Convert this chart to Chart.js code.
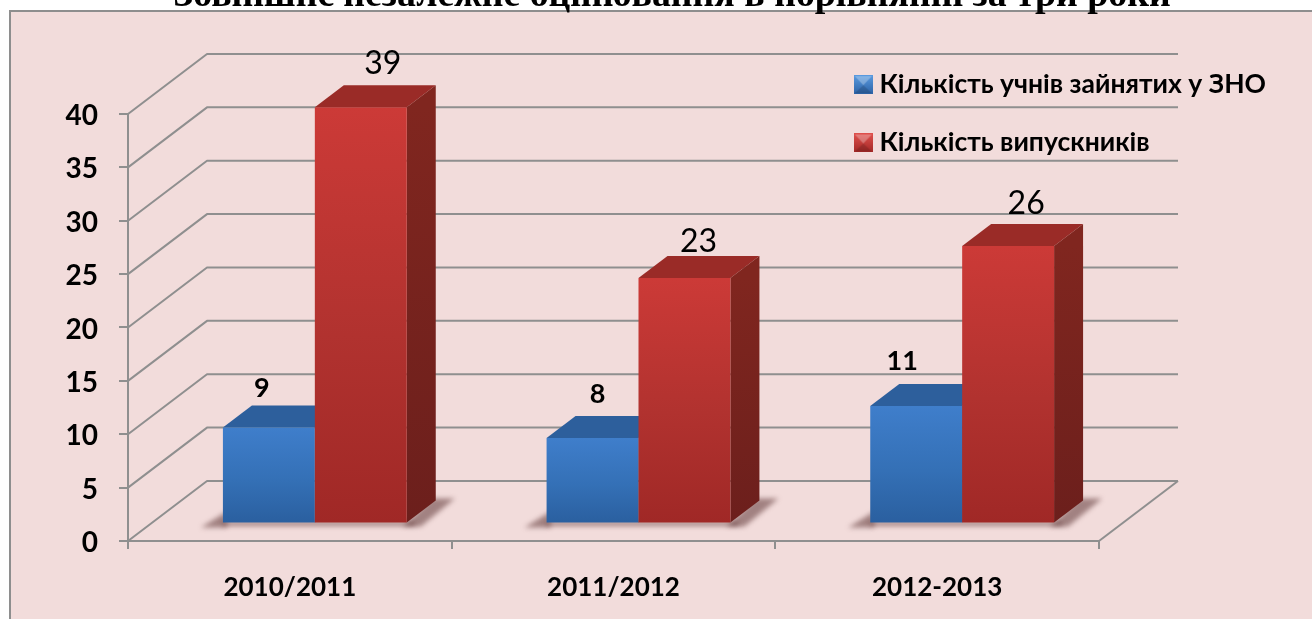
<!DOCTYPE html>
<html><head><meta charset="utf-8">
<style>html,body{margin:0;padding:0;background:#fff;overflow:hidden}canvas{display:block}</style>
<script src="https://cdn.jsdelivr.net/npm/chart.js@4/dist/chart.umd.min.js"></script>
</head><body>
<canvas id="c" width="1312" height="619"></canvas>
<script>
const chartTitle = 'Зовнішнє незалежне оцінювання в порівнянні за три роки';
const categories = ['2010/2011', '2011/2012', '2012-2013'];
const seriesNames = ['Кількість учнів зайнятих у ЗНО', 'Кількість випускників'];
const znoStudents = [9, 8, 11];
const graduates = [39, 23, 26];
const yMin = 0, yMax = 40, yStep = 5;

const LABEL_FONT = 'Lato, "Open Sans", sans-serif';
const GRID = '#8f8f8f';
const WALL = {dx: 79, dy: -60};     // depth of the floor / side wall
const BAR_PLANE = {dx: 25, dy: -17.5}; // where the front of the bars sits on the floor
const BAR_DEPTH = {dx: 29, dy: -22};
const BLUE = {front: ['#3f7ecb', '#3470b6', '#2a5f9f'], top: '#2d5f9c', side: '#234c80', key: ['#5b9be0', '#2c62a6']};
const RED  = {front: ['#cc3a37', '#b1322f', '#a02826'], top: '#9a2b27', side: ['#80261f', '#6c1f1c'], key: ['#e0504c', '#a22826']};
// hand placement of the data labels, relative to the top-centre of each bar
const LABEL_SHIFT = [
  [{x: -7, y: -39, s: 27, w: '700'}, {x: 5, y: -44, s: 27, w: '700'}, {x: -14, y: -45, s: 27, w: '700'}],
  [{x: 22, y: -43, s: 32, w: '400'}, {x: 14, y: -36, s: 32, w: '400'}, {x: 18, y: -42, s: 32, w: '400'}]
];

function makeKey(stops) {
  const k = document.createElement('canvas'); k.width = 19; k.height = 19;
  const g = k.getContext('2d');
  const lg = g.createLinearGradient(0, 0, 0, 19);
  lg.addColorStop(0, stops[0]); lg.addColorStop(1, stops[1]);
  g.fillStyle = lg; g.fillRect(0, 0, 19, 19);
  g.fillStyle = 'rgba(255,255,255,.28)';
  g.beginPath(); g.moveTo(1, 1); g.lineTo(18, 1); g.lineTo(9.5, 10); g.closePath(); g.fill();
  g.fillStyle = 'rgba(0,0,0,.14)';
  g.beginPath(); g.moveTo(1, 18); g.lineTo(18, 18); g.lineTo(9.5, 10); g.closePath(); g.fill();
  return k;
}
const keys = [makeKey(BLUE.key), makeKey(RED.key)];

function frontFill(ctx, pal) {
  if (ctx.type !== 'data') return pal.front[1];
  const yS = ctx.chart.scales.y;
  const g = ctx.chart.ctx.createLinearGradient(0, yS.getPixelForValue(ctx.raw), 0, yS.getPixelForValue(0));
  g.addColorStop(0, pal.front[0]); g.addColorStop(.55, pal.front[1]); g.addColorStop(1, pal.front[2]);
  return g;
}

function drawSides(c, meta, pal) {
  meta.data.forEach(el => {
    const l = el.x - el.width / 2, r = el.x + el.width / 2, t = el.y, b = el.base;
    const d = BAR_DEPTH;
    c.fillStyle = pal.top;
    c.beginPath(); c.moveTo(l, t); c.lineTo(l + d.dx, t + d.dy); c.lineTo(r + d.dx, t + d.dy); c.lineTo(r, t); c.closePath(); c.fill();
    if (Array.isArray(pal.side)) {
      const g = c.createLinearGradient(0, t, 0, b);
      g.addColorStop(0, pal.side[0]); g.addColorStop(1, pal.side[1]);
      c.fillStyle = g;
    } else c.fillStyle = pal.side;
    c.beginPath(); c.moveTo(r, t); c.lineTo(r + d.dx, t + d.dy); c.lineTo(r + d.dx, b + d.dy); c.lineTo(r, b); c.closePath(); c.fill();
  });
}

const scene3d = {
  id: 'scene3d',
  afterLayout(chart) {
    const lg = chart.legend;
    lg.left = 828.5; lg.top = 39.6; lg.right = 1312; lg.bottom = 240;
    chart.titleBlock.left = 32; chart.titleBlock.right = 1312;
  },
  beforeDraw(chart) {
    const c = chart.ctx;
    c.save();
    c.fillStyle = '#f2dcdb';
    c.fillRect(10, 11, 1312, 619);
    c.strokeStyle = '#8e8e8e'; c.lineWidth = 2;
    c.beginPath(); c.moveTo(10, 620); c.lineTo(10, 11); c.lineTo(1313, 11); c.stroke();
    c.restore();
  },
  beforeDatasetsDraw(chart) {
    const c = chart.ctx, y = chart.scales.y, x = chart.scales.x;
    const L = x.left, R = x.right;
    c.save();
    c.strokeStyle = GRID; c.lineWidth = 2; c.lineJoin = 'round';
    y.ticks.forEach(t => {
      const py = y.getPixelForValue(t.value);
      c.beginPath();
      c.moveTo(L, py); c.lineTo(L + WALL.dx, py + WALL.dy); c.lineTo(R + WALL.dx, py + WALL.dy);
      c.stroke();
    });
    const p0 = y.getPixelForValue(0);
    c.beginPath(); c.moveTo(R, p0); c.lineTo(R + WALL.dx, p0 + WALL.dy); c.stroke();
    // floor shadows
    c.save();
    c.filter = 'blur(2.5px)';
    c.fillStyle = 'rgba(95,55,55,.55)';
    const metaB = chart.getDatasetMeta(0), metaR = chart.getDatasetMeta(1);
    metaB.data.forEach((b, i) => {
      const r = metaR.data[i];
      const x0 = b.x - b.width / 2 + BAR_PLANE.dx, x1 = r.x + r.width / 2 + BAR_PLANE.dx, by = p0 + BAR_PLANE.dy;
      c.beginPath(); c.moveTo(x0 - 22, by + 4); c.lineTo(x0 + 4, by - 12); c.lineTo(x0 + 4, by + 4); c.closePath(); c.fill();
      c.beginPath(); c.moveTo(x1 - 4, by + 3); c.lineTo(x1 + 14, by + 3); c.lineTo(x1 + 48, by - 25); c.lineTo(x1 + BAR_DEPTH.dx - 4, by - 25); c.closePath(); c.fill();
      c.fillRect(x0, by - 2, x1 - x0 + 8, 4.5);
    });
    c.restore();
    // blue first, red in front of it, each with its 3D sides
    [[metaB, BLUE], [metaR, RED]].forEach(([meta, pal]) => {
      c.save();
      c.translate(BAR_PLANE.dx, BAR_PLANE.dy);
      drawSides(c, meta, pal);
      meta.controller.draw();
      c.restore();
    });
    // data labels
    c.fillStyle = '#000'; c.textAlign = 'center'; c.textBaseline = 'middle';
    chart.data.datasets.forEach((ds, di) => {
      chart.getDatasetMeta(di).data.forEach((el, i) => {
        const s = LABEL_SHIFT[di][i];
        c.font = s.w + ' ' + s.s + 'px ' + LABEL_FONT;
        c.fillText(String(ds.data[i]), el.x + BAR_PLANE.dx + s.x, el.y + BAR_PLANE.dy + s.y);
      });
    });
    c.restore();
    return false;
  }
};

new Chart(document.getElementById('c'), {
  type: 'bar',
  data: {
    labels: categories,
    datasets: [
      {label: seriesNames[0], data: znoStudents, backgroundColor: ctx => frontFill(ctx, BLUE)},
      {label: seriesNames[1], data: graduates, backgroundColor: ctx => frontFill(ctx, RED)}
    ]
  },
  plugins: [scene3d],
  options: {
    responsive: false,
    animation: false,
    events: [],
    categoryPercentage: 0.568,
    barPercentage: 1,
    layout: {autoPadding: false, padding: {left: 0, top: 0, right: 213, bottom: 0}},
    plugins: {
      tooltip: {enabled: false},
      title: {
        display: true, text: chartTitle, color: '#000',
        font: {family: '"Liberation Serif", serif', weight: '700', size: 37.8, lineHeight: 1.2},
        padding: {top: -26.6, bottom: 95.2}
      },
      legend: {
        position: 'chartArea', align: 'start',
        labels: {
          color: '#000', boxWidth: 6, boxHeight: 6, usePointStyle: true, padding: 31.8,
          font: {family: LABEL_FONT, weight: '700', size: 26.5},
          generateLabels: chart => chart.data.datasets.map((d, i) => ({
            text: d.label, pointStyle: keys[i], datasetIndex: i, fontColor: '#000', lineWidth: 0
          }))
        }
      }
    },
    scales: {
      x: {
        afterFit: s => { s.height = 78; },
        grid: {drawOnChartArea: false, color: GRID, lineWidth: 2, tickLength: 8},
        border: {color: GRID, width: 2},
        ticks: {color: '#000', padding: 23, maxRotation: 0, font: {family: LABEL_FONT, weight: '700', size: 26}}
      },
      y: {
        min: yMin, max: yMax,
        afterFit: s => { s.width = 128; },
        grid: {drawOnChartArea: false, color: GRID, lineWidth: 2, tickLength: 9},
        border: {color: GRID, width: 2},
        ticks: {stepSize: yStep, color: '#000', padding: 21, labelOffset: 2, font: {family: LABEL_FONT, weight: '700', size: 28}}
      }
    }
  }
});
</script>
</body></html>
